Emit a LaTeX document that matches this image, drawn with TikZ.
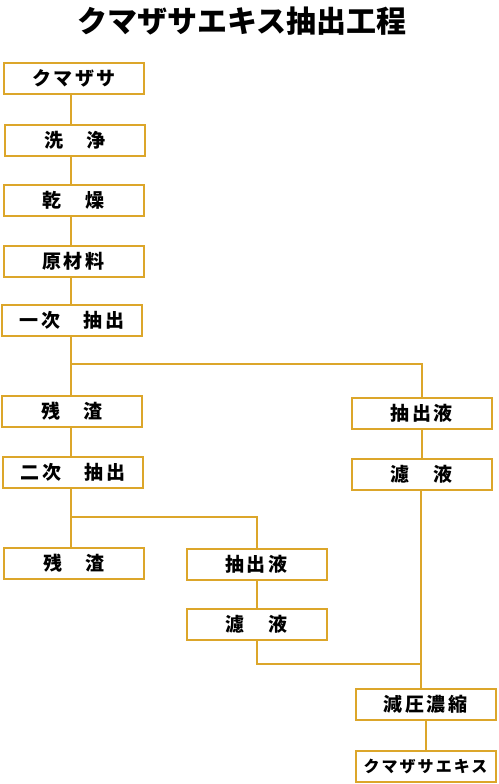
\documentclass[tikz,border=0pt]{standalone}
\usepackage{fontspec}
\usepackage{xcolor}
\usepackage{tikz}
\usetikzlibrary{positioning}
\newfontfamily\jpfont{Noto Sans CJK JP}[LetterSpace=13]
\newfontfamily\titlefont{Noto Sans CJK JP}
\definecolor{KumaGold}{RGB}{220,166,42}
\tikzset{
  stepbox/.style={draw=KumaGold, line width=2pt, minimum width=140pt,
    minimum height=31pt, inner sep=0pt,
    font=\jpfont\bfseries\fontsize{19pt}{19pt}\selectfont},
  link/.style={KumaGold, line width=2pt},
}

\begin{document}
\begin{tikzpicture}[x=1pt, y=-1pt]
  \useasboundingbox (0,0) rectangle (498,784);
  \node[font=\titlefont\bfseries\fontsize{30pt}{30pt}\selectfont] (title) at (242,21) {クマザサエキス抽出工程};

  % left column: raw material down to the second extraction
  \node[stepbox] (kumazasa)  at (74,78.5)   {クマザサ};
  \node[stepbox] (senjo)     at (75,140.5)  {洗　浄};
  \node[stepbox] (kanso)     at (73.5,200.5) {乾　燥};
  \node[stepbox] (genzairyo) at (73.5,261.5) {原材料};
  \node[stepbox] (ichiji)    at (72,320.5)  {一次　抽出};
  \node[stepbox] (zansa)     at (72,411.5)  {残　渣};
  \node[stepbox] (niji)      at (73,472.5)  {二次　抽出};
  \node[stepbox] (zansaB)    at (74,563.5)  {残　渣};
  % middle column
  \node[stepbox] (chushutsuB) at (256.5,564.5) {抽出液};
  \node[stepbox] (roekiB)     at (256.5,624.5) {濾　液};
  % right column
  \node[stepbox] (chushutsu) at (421.75,413)  {抽出液};
  \node[stepbox] (roeki)     at (421.75,474.5) {濾　液};
  \node[stepbox] (genatsu)   at (425.5,704.5)  {減圧濃縮};
  \node[stepbox, font=\jpfont\bfseries\fontsize{16pt}{16pt}\selectfont] (extract) at (425.5,766.5) {クマザサエキス};

  \coordinate (trunk)  at (70.5,0);
  \coordinate (rtrunk) at (421,0);
  \coordinate (split1) at (0,364);
  \coordinate (split2) at (0,517);
  \coordinate (merge)  at (0,664);

  \draw[link] (kumazasa.south -| trunk)  -- (senjo.north -| trunk);
  \draw[link] (senjo.south -| trunk)     -- (kanso.north -| trunk);
  \draw[link] (kanso.south -| trunk)     -- (genzairyo.north -| trunk);
  \draw[link] (genzairyo.south -| trunk) -- (ichiji.north -| trunk);
  \draw[link] (ichiji.south -| trunk)    -- (zansa.north -| trunk);
  \draw[link] (split1 -| trunk) -| (chushutsu.north);
  \draw[link] (zansa.south -| trunk)     -- (niji.north -| trunk);
  \draw[link] (niji.south -| trunk)      -- (zansaB.north -| trunk);
  \draw[link] (split2 -| trunk) -| (chushutsuB.north);
  \draw[link] (chushutsuB) -- (roekiB);
  \draw[link] (chushutsu) -- (roeki);
  \draw[link] (roeki.south -| rtrunk) -- (genatsu.north -| rtrunk);
  \draw[link] (roekiB.south) |- (merge -| rtrunk);
  \draw[link] (genatsu) -- (extract);
\end{tikzpicture}
\end{document}
